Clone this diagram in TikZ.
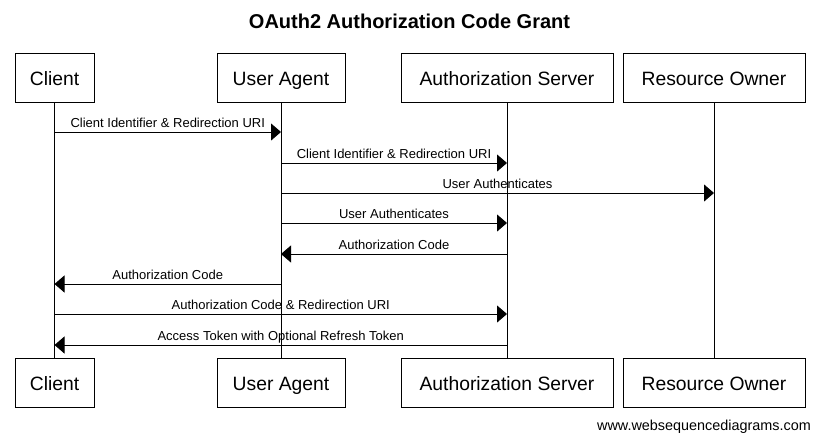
\documentclass[tikz,border=0pt]{standalone}
\usepackage{fontspec}
\setmainfont{Liberation Sans}
\usetikzlibrary{arrows.meta}

\begin{document}
\begin{tikzpicture}[x=1pt,y=-1pt,
    actor/.style={draw,line width=1pt,minimum height=49pt,inner sep=0pt,text height=15pt,text depth=0pt,font=\fontsize{19.3}{22}\selectfont},
    life/.style={line width=1pt},
    msg/.style={line width=1pt,-{Triangle[length=10pt,width=17pt]}},
    lbl/.style={above=4pt,inner sep=0pt,text depth=0pt,font=\fontsize{13}{15}\selectfont}]
    \useasboundingbox[fill=white] (0,0) rectangle (817,442);
    % Title
    \node[font=\bfseries\fontsize{20}{24}\selectfont] (title) at (409.5,21) {OAuth2 Authorization Code Grant};
    % Participants and lifelines
    \foreach \n/\x/\w/\t in {cl/54.5/79/Client, ua/281/128/User Agent, as/507/212/Authorization Server, ro/714/182/Resource Owner} {
        \node[actor,minimum width=\w pt] (\n-top) at (\x,77.5) {\t};
        \node[actor,minimum width=\w pt] (\n-bot) at (\x,382.5) {\t};
        \draw[life] (\n-top) -- (\n-bot);
    }
    % Messages
    \draw[msg] (cl-top |- 0,132) -- node[lbl] {Client Identifier \& Redirection URI} (ua-top |- 0,132);
    \draw[msg] (ua-top |- 0,163) -- node[lbl] {Client Identifier \& Redirection URI} (as-top |- 0,163);
    \draw[msg] (ua-top |- 0,193) -- node[lbl] {User Authenticates} (ro-top |- 0,193);
    \draw[msg] (ua-top |- 0,223) -- node[lbl] {User Authenticates} (as-top |- 0,223);
    \draw[msg] (as-top |- 0,254) -- node[lbl] {Authorization Code} (ua-top |- 0,254);
    \draw[msg] (ua-top |- 0,284) -- node[lbl] {Authorization Code} (cl-top |- 0,284);
    \draw[msg] (cl-top |- 0,314) -- node[lbl] {Authorization Code \& Redirection URI} (as-top |- 0,314);
    \draw[msg] (as-top |- 0,345) -- node[lbl] {Access Token with Optional Refresh Token} (cl-top |- 0,345);
    % Footer
    \node[anchor=east,inner sep=0pt,font=\fontsize{14.4}{16}\selectfont] (site) at (811,427) {www.websequencediagrams.com};
\end{tikzpicture}
\end{document}
